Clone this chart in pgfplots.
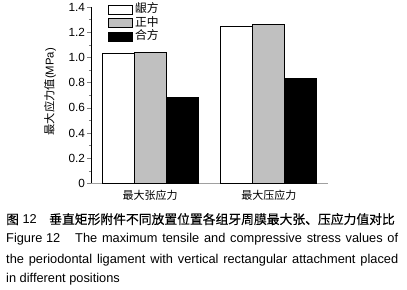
\documentclass[border=0pt]{standalone}
\usepackage{fontspec}
\setmainfont{Liberation Sans}
\newfontfamily\cjk{Noto Sans CJK SC}
\newfontfamily\cjkb[FakeBold=0.4]{Noto Sans CJK SC}
\usepackage{pgfplots}
\pgfplotsset{compat=1.18}
\definecolor{bargray}{HTML}{C0C0C0}
\definecolor{axgray}{HTML}{A0A0A0}
\pgfplotsset{lg/.style={legend image code/.code={\draw[##1, line width=0.8bp] (0bp,-4.5bp) rectangle (24bp,4.5bp);}}}
\begin{document}
\begin{tikzpicture}
\useasboundingbox (0,0) rectangle (407bp,290bp);
\begin{axis}[
  at={(91bp,106.5bp)}, anchor=south west,
  scale only axis, width=237bp, height=176.5bp,
  xmin=-0.5, xmax=1.5, ymin=0, ymax=1.4,
  ybar, bar width=0.27,
  axis x line=bottom, axis y line=left,
  x axis line style={-, draw=axgray, line width=0.8bp},
  y axis line style={-, line width=0.6bp},
  xtick={0,1}, xticklabels={最大张应力,最大压应力},
  xtick style={draw=none},
  xticklabel style={font=\cjk\fontsize{11bp}{12bp}\selectfont},
  ytick={0,0.2,0.4,0.6,0.8,1.0,1.2,1.4},
  yticklabels={0,0.2,0.4,0.6,0.8,1.0,1.2,1.4},
  yticklabel style={font=\fontsize{11.8bp}{12bp}\selectfont, xshift=1bp},
  minor y tick num=1, tick align=outside,
  major tick length=3.5bp, minor tick length=2bp,
  ytick style={line width=0.6bp},
  /pgf/number format/assume math mode=true,
  ylabel={{\cjk 最大应力值}(MPa)},
  ylabel style={at={(axis description cs:-0.173,0.52)}, anchor=center, font=\fontsize{11.3bp}{12bp}\selectfont},
  legend style={at={(axis description cs:0.07,1.02)}, anchor=north west, draw=none, fill=none,
    inner sep=0pt, row sep=1.5bp, font=\cjk\fontsize{11.8bp}{12bp}\selectfont,
    nodes={inner sep=0.5bp, text height=8.5bp, text depth=2.5bp},
    /tikz/every odd column/.append style={column sep=2bp}},
  legend cell align=left,
  clip=false,
]
\addplot[fill=white, draw=black, line width=0.8bp, bar shift=-0.27, lg] coordinates {(0,1.03) (1,1.247)};
\addplot[fill=bargray, draw=black, line width=0.8bp, bar shift=0, lg] coordinates {(0,1.04) (1,1.26)};
\addplot[fill=black, draw=black, line width=0.8bp, bar shift=0.27, lg] coordinates {(0,0.68) (1,0.836)};
\legend{龈方,正中,合方}
\end{axis}
\begin{scope}[every node/.style={anchor=base west, inner sep=0pt, font=\fontsize{12.8bp}{14bp}\selectfont}]
\node at (6bp,66bp) {{\cjkb 图} 12};
\node at (49bp,66bp) {\cjkb 垂直矩形附件不同放置位置各组牙周膜最大张、压应力值对比};
\node at (6bp,47.3bp) {Figure 12};
\node at (75bp,47.3bp) {\makebox[323bp][s]{The maximum tensile and compressive stress values of}};
\node at (6bp,26.7bp) {\makebox[392bp][s]{the periodontal ligament with vertical rectangular attachment placed}};
\node at (6bp,7.3bp) {in different positions};
\end{scope}
\end{tikzpicture}
\end{document}
